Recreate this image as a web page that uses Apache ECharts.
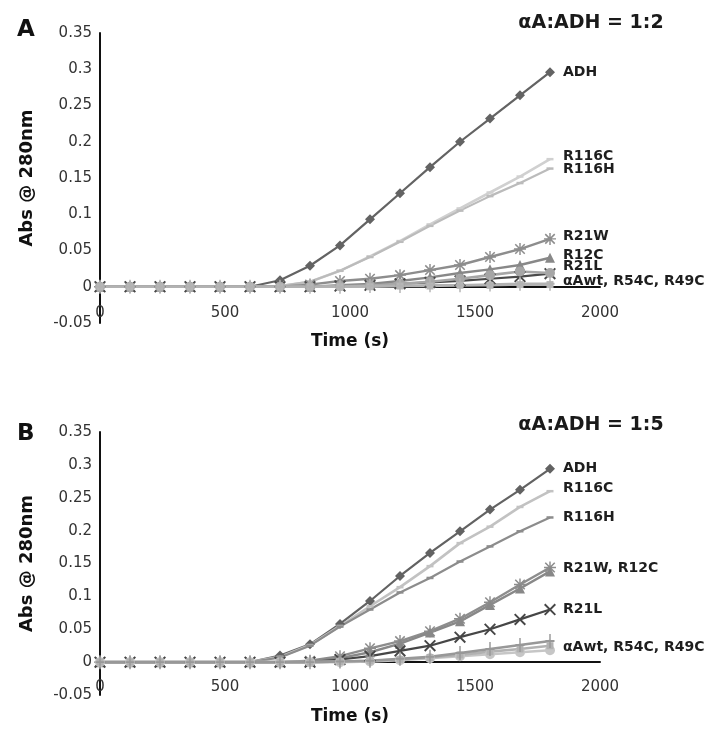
<!DOCTYPE html>
<html>
<head>
<meta charset="utf-8">
<script src="https://cdn.jsdelivr.net/npm/echarts@6/dist/echarts.min.js"></script>
<style>html,body{margin:0;padding:0;background:#fff;}#c{width:718px;height:740px;}</style>
</head>
<body>
<div id="c"></div>
<script>
// ---- data ----
var time = [0,120,240,360,480,600,720,840,960,1080,1200,1320,1440,1560,1680,1800];
var xTicks = [0,500,1000,1500,2000];
var yTicks = [-0.05,0,0.05,0.1,0.15,0.2,0.25,0.3,0.35];
var seriesNames = ['ADH','R116C','R116H','R21W','R12C','R21L','R54C','R49C','αAwt'];

// Panel A (αA:ADH = 1:2)
var adhA   = [0,0,0,0,0,0,0.009,0.029,0.057,0.093,0.129,0.165,0.200,0.232,0.264,0.296];
var r116cA = [0,0,0,0,0,0,0.001,0.007,0.022,0.042,0.063,0.086,0.108,0.130,0.152,0.176];
var r116hA = [0,0,0,0,0,0,0.001,0.007,0.022,0.041,0.062,0.084,0.105,0.125,0.143,0.163];
var r21wA  = [0,0,0,0,0,0,0,0.003,0.008,0.011,0.016,0.023,0.030,0.041,0.052,0.066];
var r12cA  = [0,0,0,0,0,0,0,0,0.002,0.004,0.008,0.013,0.019,0.024,0.030,0.040];
var r21lA  = [0,0,0,0,0,0,0,0,0.001,0.002,0.004,0.006,0.008,0.011,0.014,0.018];
var r54cA  = [0,0,0,0,0,0,0,0,0.001,0.002,0.004,0.007,0.011,0.016,0.021,0.019];
var r49cA  = [0,0,0,0,0,0,0,0,0,0,0.001,0.001,0.002,0.002,0.003,0.003];
var awtA   = [0,0,0,0,0,0,0,0,0,0.001,0.001,0.002,0.002,0.003,0.004,0.004];

// Panel B (αA:ADH = 1:5)
var adhB   = [0,0,0,0,0,0,0.010,0.027,0.058,0.093,0.131,0.166,0.199,0.232,0.262,0.294];
var r116cB = [0,0,0,0,0,0,0.008,0.026,0.055,0.085,0.114,0.146,0.181,0.206,0.236,0.260];
var r116hB = [0,0,0,0,0,0,0.007,0.025,0.054,0.080,0.106,0.128,0.153,0.176,0.199,0.220];
var r21wB  = [0,0,0,0,0,0,0,0.002,0.009,0.021,0.032,0.047,0.066,0.091,0.118,0.144];
var r12cB  = [0,0,0,0,0,0,0,0.001,0.006,0.015,0.028,0.045,0.062,0.087,0.112,0.138];
var r21lB  = [0,0,0,0,0,0,0,0,0.004,0.009,0.017,0.025,0.038,0.050,0.065,0.080];
var r54cB  = [0,0,0,0,0,0,0,0,0,0.001,0.003,0.006,0.009,0.012,0.015,0.018];
var r49cB  = [0,0,0,0,0,0,0,0,0.001,0.002,0.004,0.007,0.011,0.016,0.020,0.025];
var awtB   = [0,0,0,0,0,0,0,0,0.001,0.002,0.005,0.008,0.014,0.020,0.026,0.032];

var labelsA = {'ADH':['ADH',0],'R116C':['R116C',-3],'R116H':['R116H',1],'R21W':['R21W',-3],'R12C':['R12C',-2],'R21L':['R21L',-7],'αAwt':['αAwt, R54C, R49C',-2]};
var labelsB = {'ADH':['ADH',0],'R116C':['R116C',-3],'R116H':['R116H',0],'R21W':['R21W, R12C',1],'R21L':['R21L',0],'αAwt':['αAwt, R54C, R49C',6]};

// ---- styles ----
var SYM_X = 'path://M0.6,1.6L1.6,0.6L9.4,8.4L8.4,9.4Z M8.4,0.6L9.4,1.6L1.6,9.4L0.6,8.4Z';
var SYM_PLUS = 'path://M4.2,0H5.8V10H4.2Z M0,4.3H10V5.7H0Z';
var SYM_AST = 'path://M4.4,0H5.6V10H4.4Z M0,4.4H10V5.6H0Z M0.6,1.5L1.5,0.6L9.4,8.5L8.5,9.4Z M8.5,0.6L9.4,1.5L1.5,9.4L0.6,8.5Z';
var styleMap = {
  'ADH':   {sym:'diamond', size:10, colA:'#636363', colB:'#626262', w:2.2},
  'R116C': {sym:'rect', size:[7,2.5], colA:'#d0d0d0', colB:'#c2c2c2', w:2.6},
  'R116H': {sym:'rect', size:[7,2.5], colA:'#bbbbbb', colB:'#8c8c8c', w:2.2},
  'R21W':  {sym:SYM_AST, size:12, colA:'#8d8d8d', colB:'#8d8d8d', w:2.4},
  'R12C':  {sym:'triangle', size:10, colA:'#888888', colB:'#888888', w:2.4},
  'R21L':  {sym:SYM_X, size:12, colA:'#4a4a4a', colB:'#464646', w:2.2},
  'R54C':  {sym:'circle', size:10, colA:'#a6a6a6', colB:'#c6c6c6', w:2.6},
  'R49C':  {sym:'rect', size:7, colA:'#b6b6b6', colB:'#b2b2b2', w:2.6},
  'αAwt':  {sym:SYM_PLUS, size:[9,14], colA:'#b2b2b2', colB:'#989898', w:2.6}
};

var dataA = {'ADH':adhA,'R116C':r116cA,'R116H':r116hA,'R21W':r21wA,'R12C':r12cA,'R21L':r21lA,'R54C':r54cA,'R49C':r49cA,'αAwt':awtA};
var dataB = {'ADH':adhB,'R116C':r116cB,'R116H':r116hB,'R21W':r21wB,'R12C':r12cB,'R21L':r21lB,'R54C':r54cB,'R49C':r49cB,'αAwt':awtB};

function pairs(arr){ return time.map(function(t,i){ return [t, arr[i]]; }); }

var FONT = 'DejaVu Sans';
function buildSeries(dataSet, labels, idx, colKey){
  return seriesNames.map(function(n){
    var s = styleMap[n];
    var lab = labels[n];
    return {
      name: n, type:'line', xAxisIndex: idx, yAxisIndex: idx,
      data: pairs(dataSet[n]),
      symbol: s.sym, symbolSize: s.size, showAllSymbol: true,
      lineStyle: {color: s[colKey], width: s.w},
      itemStyle: {color: s[colKey], borderWidth: 0},
      animation: false, silent: true, clip: false,
      endLabel: lab ? {
        show: true, formatter: lab[0], distance: 13, offset:[0, lab[1]],
        fontFamily: FONT, fontWeight: 'bold', fontSize: 14, color:'#1e1e1e'
      } : {show:false}
    };
  });
}

function xAx(idx, margin, gap){
  return {
    type:'value', gridIndex: idx, min:xTicks[0], max:xTicks[xTicks.length-1], interval:500,
    axisLine:{show:true, onZero:true, lineStyle:{color:'#111', width:2}},
    axisTick:{show:false}, splitLine:{show:false},
    axisLabel:{margin: margin, fontFamily: FONT, fontSize: 15, color:'#333',
      formatter: function(v){ return String(v); }},
    name:'Time (s)', nameLocation:'middle', nameGap: gap,
    nameTextStyle:{fontFamily: FONT, fontWeight:'bold', fontSize:17, color:'#111'}
  };
}
function yAx(idx){
  return {
    type:'value', gridIndex: idx, min:yTicks[0], max:yTicks[yTicks.length-1], interval:0.05,
    axisLine:{show:true, lineStyle:{color:'#111', width:2}},
    axisTick:{show:false}, splitLine:{show:false},
    axisLabel:{margin: 8, fontFamily: FONT, fontSize: 15, color:'#333',
      formatter: function(v){ return String(Math.round(v*100)/100); }},
    name:'Abs @ 280nm', nameLocation:'middle', nameGap: 64, nameRotate: 90,
    nameTextStyle:{fontFamily: FONT, fontWeight:'bold', fontSize:18, color:'#111'}
  };
}

var chart = echarts.init(document.getElementById('c'), null, {renderer:'canvas'});
chart.setOption({
  backgroundColor:'#fff',
  animation:false,
  grid:[
    {left:100, top:33, width:500, height:290, containLabel:false, outerBoundsMode:'none'},
    {left:100, top:432, width:500, height:263, containLabel:false, outerBoundsMode:'none'}
  ],
  xAxis:[xAx(0,-17,10), xAx(1,-15,13)],
  yAxis:[yAx(0), yAx(1)],
  series: buildSeries(dataA, labelsA, 0, 'colA').concat(buildSeries(dataB, labelsB, 1, 'colB')),
  graphic:[
    {type:'text', left:17, top:19, style:{text:'A', font:'bold 23px "DejaVu Sans"', fill:'#111'}},
    {type:'text', left:17, top:423, style:{text:'B', font:'bold 23px "DejaVu Sans"', fill:'#111'}},
    {type:'text', x:591, y:23, style:{text:'αA:ADH = 1:2', font:'bold 19px "DejaVu Sans"', fill:'#1a1a1a', textAlign:'center', textVerticalAlign:'middle'}},
    {type:'text', x:591, y:425, style:{text:'αA:ADH = 1:5', font:'bold 19px "DejaVu Sans"', fill:'#1a1a1a', textAlign:'center', textVerticalAlign:'middle'}}
  ]
});
</script>
</body>
</html>
